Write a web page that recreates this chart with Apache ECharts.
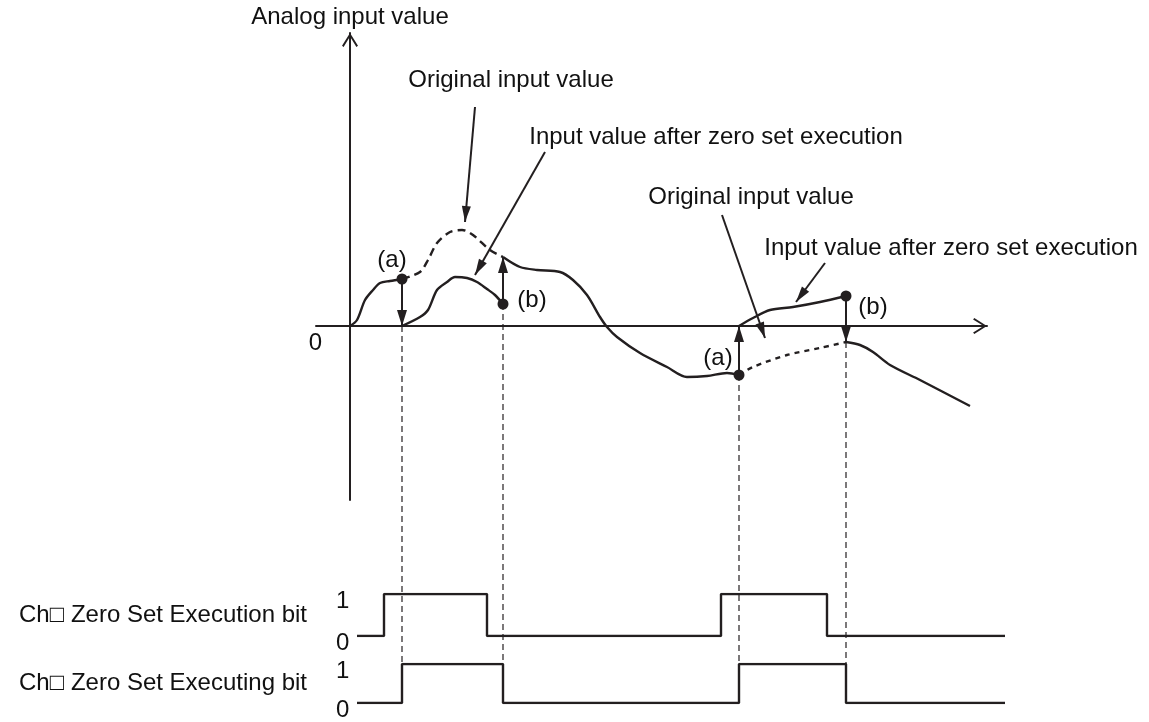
<!DOCTYPE html>
<html>
<head>
<meta charset="utf-8">
<title>Zero set execution timing</title>
<script src="https://cdn.jsdelivr.net/npm/echarts@6/dist/echarts.min.js"></script>
<style>
  html, body { margin: 0; padding: 0; background: #fff; }
  #chart { width: 1149px; height: 722px; }
</style>
</head>
<body>
<div id="chart"></div>
<script>
// analog input, [time, value]; the original signal is split where zero set runs
const origBefore = [[0, 0], [0.7, 0.6], [1.5, 2.6], [2.3, 3.6], [3.0, 4.3], [4.0, 4.5], [5.2, 4.7]];
const origHiddenA = [[5.2, 4.7], [7.0, 5.4], [7.8, 6.6], [8.7, 8.3], [10.0, 9.4], [11.2, 9.6], [12.3, 9.1], [14.0, 7.6], [15.3, 6.9]];
const origMiddle = [[15.3, 6.9], [17.0, 5.9], [18.7, 5.6], [21.0, 5.4], [22.3, 4.6], [23.7, 3.1], [25.0, 0.9], [25.7, -0.1],
  [26.7, -1.1], [29.0, -2.7], [31.7, -4.1], [33.7, -5.1], [35.7, -5.0], [37.7, -4.7], [38.9, -4.9]];
const origHiddenB = [[38.9, -4.9], [40.3, -4.1], [43.7, -2.9], [47.0, -2.2], [49.6, -1.6]];
const origAfter = [[49.6, -1.6], [51.0, -1.9], [52.3, -2.6], [54.0, -3.9], [57.0, -5.4], [62.0, -8.0]];
// input value after zero set execution
const shiftedA = [[5.2, 0], [7.0, 0.9], [7.8, 1.6], [8.7, 3.6], [9.7, 4.4], [10.5, 4.9], [11.7, 4.8], [12.7, 4.4],
  [13.7, 3.7], [14.5, 3.1], [15.3, 2.2]];
const shiftedB = [[38.9, 0], [40.3, 0.8], [42.0, 1.6], [44.3, 1.9], [47.0, 2.4], [49.6, 3.0]];

// bit signals, [time, level], step at each time
const executionBit = [[0.7, 0], [3.4, 1], [13.7, 0], [37.1, 1], [47.7, 0], [65.5, 0]];
const executingBit = [[0.7, 0], [5.2, 1], [15.3, 0], [38.9, 1], [49.6, 0], [65.5, 0]];

const rowNames = ["Ch\u25A1 Zero Set Execution bit", "Ch\u25A1 Zero Set Executing bit"];

// annotations
const calloutText = [
  { name: "Original input value", value: [16.1, 24.6] },
  { name: "Input value after zero set execution", value: [36.6, 18.9] },
  { name: "Original input value", value: [40.1, 12.9] },
  { name: "Input value after zero set execution", value: [60.1, 7.8] },
  { name: "(a)", value: [4.2, 6.6] },
  { name: "(b)", value: [18.2, 2.6] },
  { name: "(a)", value: [36.8, -3.2] },
  { name: "(b)", value: [52.3, 1.9] },
];
const calloutArrows = [
  [[12.5, 21.9], [11.5, 10.4]],
  [[19.5, 17.4], [12.5, 5.1]],
  [[37.2, 11.1], [41.5, -1.2]],
  [[47.5, 6.3], [44.6, 2.4]],
];

const INK = "#231f20";
const TEXT = "#111111";
const FONT = '"Liberation Sans", Arial, "DejaVu Sans", sans-serif';
const CHEVRON = "path://M8,0 L16,12.6 L14.4,13.8 L8,3.3 L1.6,13.8 L0,12.6 Z";

const chart = echarts.init(document.getElementById("chart"));

const windows = [
  { hidden: origHiddenA, shifted: shiftedA },
  { hidden: origHiddenB, shifted: shiftedB },
];

// value arrows (a) and (b), plus the dashed drop lines under them
const valueArrows = [];
const dropLines = [];
windows.forEach((w) => {
  const hOn = w.hidden[0], hOff = w.hidden[w.hidden.length - 1];
  const sOn = w.shifted[0], sOff = w.shifted[w.shifted.length - 1];
  valueArrows.push([
    { coord: hOn, symbol: "circle", symbolSize: 11 },
    { coord: [hOn[0], sOn[1]], symbol: "triangle", symbolSize: [10, 16], symbolOffset: [0, 8] },
  ]);
  valueArrows.push([
    { coord: sOff, symbol: "circle", symbolSize: 11 },
    { coord: [sOff[0], hOff[1]], symbol: "triangle", symbolSize: [10, 16], symbolOffset: [0, 8] },
  ]);
  dropLines.push([hOn[0], Math.min(hOn[1], sOn[1])]);
  dropLines.push([sOff[0], Math.min(hOff[1], sOff[1])]);
});

const arrowLines = calloutArrows.map((a) => [
  { coord: a[0], symbol: "none" },
  { coord: a[1], symbol: "triangle", symbolSize: [9, 16], symbolOffset: [0, 8] },
]);

function curve(data, dash) {
  return {
    type: "line",
    xAxisIndex: 0,
    yAxisIndex: 0,
    data: data,
    showSymbol: false,
    smooth: 0.3,
    lineStyle: { color: INK, width: 2.4, type: dash || "solid" },
    silent: true,
  };
}

const textStyle = { color: TEXT, fontSize: 24, fontFamily: FONT };

const series = [
  curve(origBefore),
  curve(origHiddenA, [8, 5]),
  curve(origMiddle),
  curve(origHiddenB, [5, 5]),
  curve(origAfter),
  curve(shiftedA),
  curve(shiftedB),
  {
    type: "line",
    xAxisIndex: 0,
    yAxisIndex: 0,
    data: [],
    silent: true,
    markLine: {
      silent: true,
      animation: false,
      label: { show: false },
      lineStyle: { color: INK, width: 2, type: "solid" },
      emphasis: { disabled: true },
      data: valueArrows.concat(arrowLines),
    },
  },
  {
    type: "scatter",
    xAxisIndex: 0,
    yAxisIndex: 0,
    symbolSize: 0,
    silent: true,
    itemStyle: { color: INK, opacity: 1 },
    data: calloutText,
    label: {
      show: true,
      position: "inside",
      formatter: (p) => p.name,
      ...textStyle,
    },
  },
];

dropLines.forEach((d) => {
  series.push({
    type: "line",
    xAxisIndex: 1,
    yAxisIndex: 1,
    data: [d, [d[0], -33.8]],
    showSymbol: false,
    silent: true,
    lineStyle: { color: INK, width: 1.2, type: [6, 4] },
  });
});

[executionBit, executingBit].forEach((bit, i) => {
  series.push({
    type: "line",
    xAxisIndex: 2 + i,
    yAxisIndex: 2 + i,
    step: "end",
    data: bit,
    showSymbol: false,
    silent: true,
    lineStyle: { color: INK, width: 2.4 },
  });
});

const hiddenX = (g, max) => ({ gridIndex: g, type: "value", min: -3.4, max: max, show: false });

function bitAxis(g, name) {
  return {
    gridIndex: g,
    type: "value",
    min: 0,
    max: 1,
    interval: 1,
    name: name,
    nameLocation: "middle",
    nameRotate: 0,
    nameGap: 9,
    nameTextStyle: textStyle,
    axisLine: { show: false },
    axisTick: { show: false },
    splitLine: { show: false },
    axisLabel: {
      inside: true,
      margin: 20,
      formatter: (v) => "{v|" + v + "}",
      rich: { v: { padding: [14, 0, 0, 0], ...textStyle } },
    },
  };
}

const option = {
  animation: false,
  backgroundColor: "#ffffff",
  grid: [
    { left: 316, right: 162, top: 33, bottom: 222 },
    { left: 316, right: 144, top: 33, bottom: 58 },
    { left: 316, right: 144, top: 594, height: 42 },
    { left: 316, right: 144, top: 664, height: 42 },
  ],
  xAxis: [
    {
      gridIndex: 0,
      type: "value",
      min: -3.4,
      max: 63.7,
      axisLine: {
        onZero: true,
        symbol: ["none", CHEVRON],
        symbolSize: [16, 14],
        symbolOffset: [0, -7],
        lineStyle: { color: INK, width: 2 },
      },
      axisTick: { show: false },
      axisLabel: { show: false },
      splitLine: { show: false },
    },
    hiddenX(1, 65.5),
    hiddenX(2, 65.5),
    hiddenX(3, 65.5),
  ],
  yAxis: [
    {
      gridIndex: 0,
      type: "value",
      min: -17.4,
      max: 29.3,
      name: "Analog input value",
      nameLocation: "end",
      nameGap: 4,
      nameTextStyle: textStyle,
      axisLine: {
        onZero: true,
        symbol: ["none", CHEVRON],
        symbolSize: [16, 14],
        symbolOffset: [0, -7],
        lineStyle: { color: INK, width: 2 },
      },
      axisTick: { show: false },
      splitLine: { show: false },
      axisLabel: {
        customValues: [0],
        margin: -6,
        formatter: (v) => "{v|" + v + "}",
        rich: { v: { padding: [34, 0, 0, 0], ...textStyle } },
      },
    },
    { gridIndex: 1, type: "value", min: -33.8, max: 29.3, show: false },
    bitAxis(2, rowNames[0]),
    bitAxis(3, rowNames[1]),
  ],
  series: series,
};

chart.setOption(option);
</script>
</body>
</html>
